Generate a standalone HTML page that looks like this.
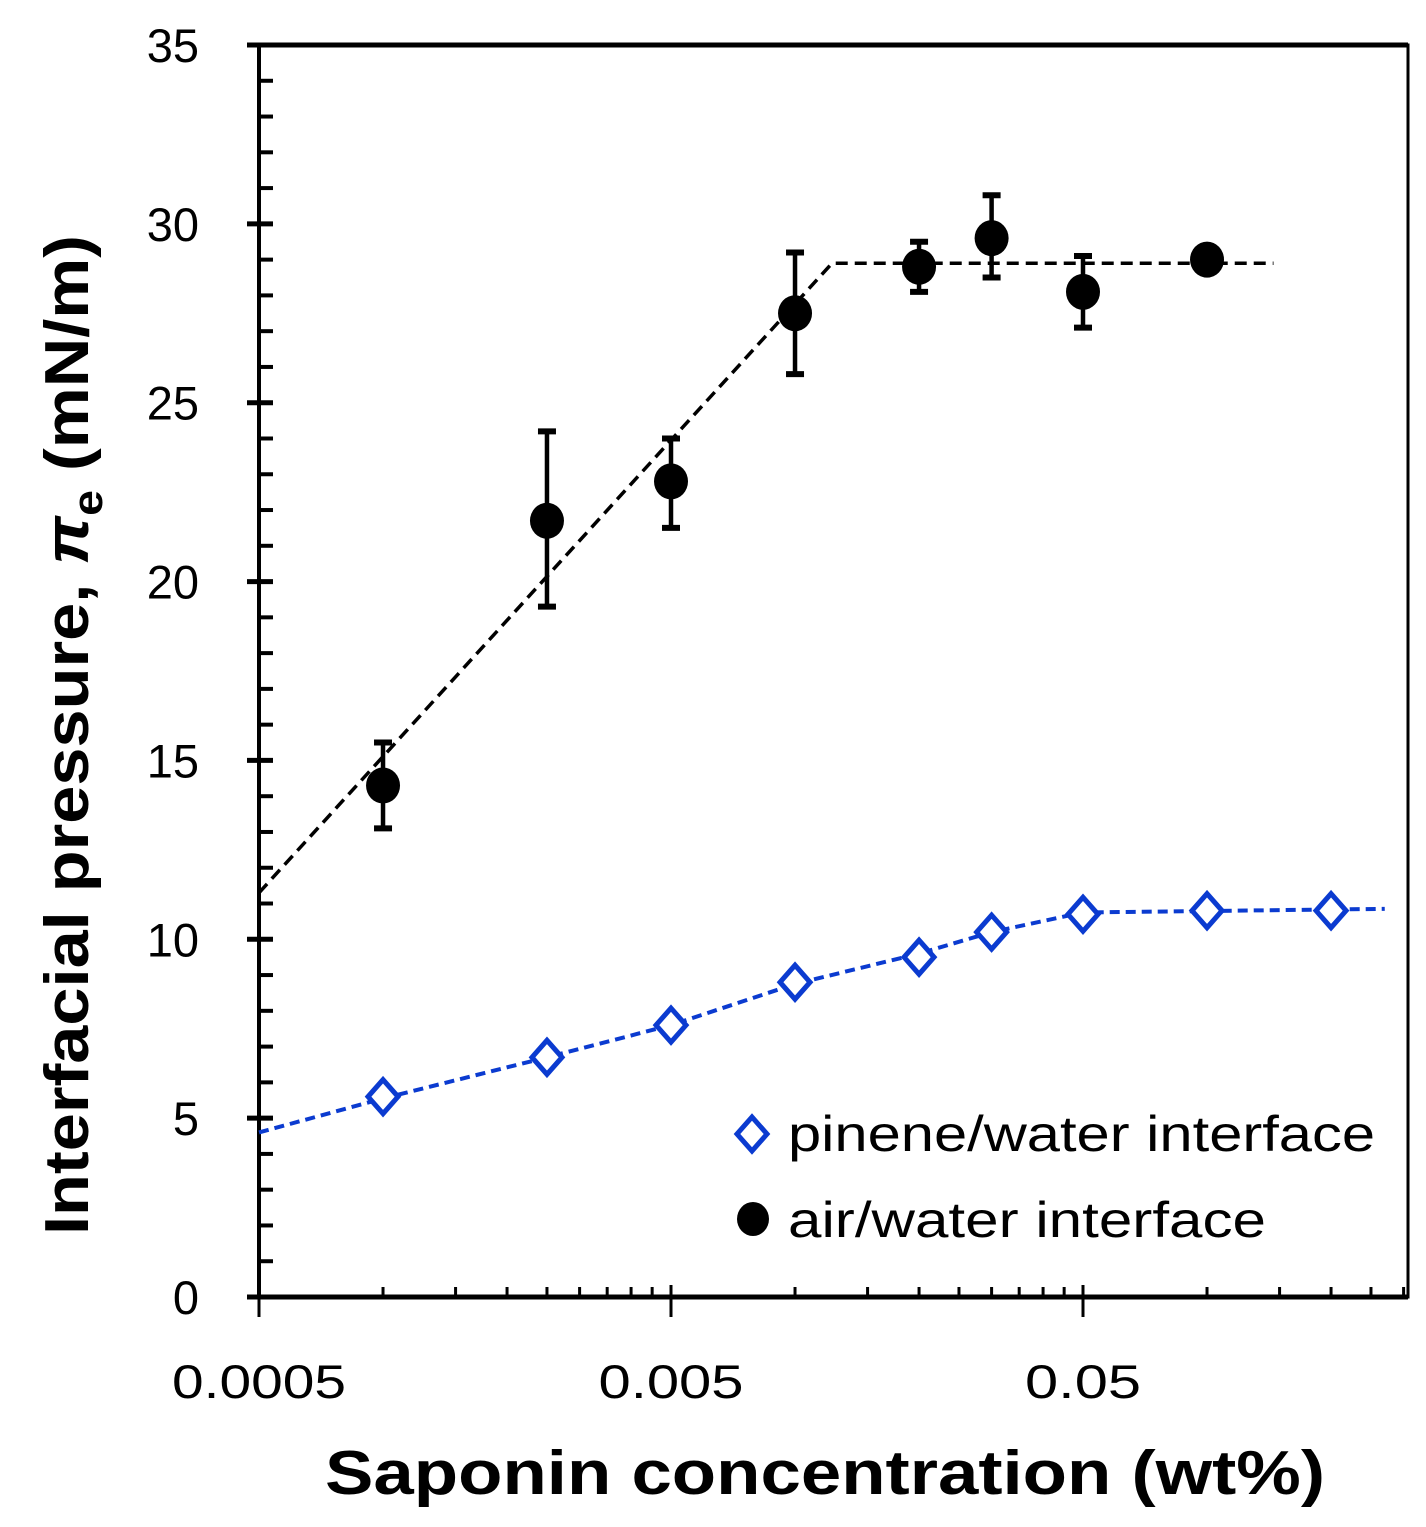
<!DOCTYPE html>
<html><head><meta charset="utf-8"><style>
html,body{margin:0;padding:0;background:#fff}
svg text{font-family:"Liberation Sans","DejaVu Sans",sans-serif}
</style></head><body>
<svg id="chart" width="1426" height="1522" viewBox="0 0 1426 1522" xmlns="http://www.w3.org/2000/svg">
<g id="axes"></g>
<g id="fits"></g>
<g id="marks"></g>
<text x="825" y="1494" text-anchor="middle" font-size="62" font-weight="bold" textLength="1000" lengthAdjust="spacingAndGlyphs">Saponin concentration (wt%)</text>
<text transform="translate(88,735) rotate(-90)" text-anchor="middle" font-size="62" font-weight="bold" textLength="1000" lengthAdjust="spacingAndGlyphs">Interfacial pressure, <tspan font-style="italic">π</tspan><tspan font-size="42" dy="14">e</tspan><tspan dy="-14">  (mN/m)</tspan></text>
<g>
<polygon points="752,1117 767,1134 752,1151 737,1134" fill="none" stroke="#0b3bd0" stroke-width="5"/>
<text x="788" y="1151" font-size="50" textLength="587" lengthAdjust="spacingAndGlyphs">pinene/water interface</text>
<ellipse cx="753" cy="1219" rx="16" ry="17" fill="#000"/>
<text x="788" y="1237" font-size="50" textLength="478" lengthAdjust="spacingAndGlyphs">air/water interface</text>
</g>
</svg>
<script>
const airX=[0.001,0.0025,0.005,0.01,0.02,0.03,0.05,0.1];
const airY=[14.3,21.7,22.8,27.5,28.8,29.6,28.1,29.0];
const airHi=[15.5,24.2,24.0,29.2,29.5,30.8,29.1,29.3];
const airLo=[13.1,19.3,21.5,25.8,28.1,28.5,27.1,28.7];
const pineneX=[0.001,0.0025,0.005,0.01,0.02,0.03,0.05,0.1,0.2];
const pineneY=[5.6,6.7,7.6,8.8,9.5,10.2,10.7,10.8,10.8];
const airFitX=[0.0005,0.0123,0.145];
const airFitY=[11.3,28.9,28.9];
const pineneFitX=[0.0005,0.001,0.0025,0.005,0.01,0.02,0.03,0.05,0.27];
const pineneFitY=[4.6,5.55,6.7,7.6,8.75,9.6,10.2,10.75,10.85];
const yTicks=[0,5,10,15,20,25,30,35];
const xTickLabels=["0.0005","0.005","0.05"];
const xTickVals=[0.0005,0.005,0.05];

const L=259,R=1408,T=45,B=1297,DEC=412;
const sx=v=>L+Math.log10(v/0.0005)*DEC;
const sy=v=>B-v*(B-T)/35;
const NS="http://www.w3.org/2000/svg";
function mk(parent,tag,attrs){const e=document.createElementNS(NS,tag);for(const k in attrs)e.setAttribute(k,attrs[k]);parent.appendChild(e);return e;}
const axes=document.getElementById('axes'),fits=document.getElementById('fits'),marks=document.getElementById('marks');

let f=mk(axes,'rect',{x:L,y:T,width:R-L,height:B-T,fill:'none',stroke:'#000','stroke-width':3});


let tl=mk(axes,'line',{x1:L-12,y1:T,x2:R,y2:T,stroke:'#000','stroke-width':5});


let xl=mk(axes,'line',{x1:L-12,y1:B,x2:R,y2:B,stroke:'#000','stroke-width':5});


let yl=mk(axes,'line',{x1:L,y1:T,x2:L,y2:B,stroke:'#000','stroke-width':4});



for(let v=0;v<=35;v++){
  const y=sy(v),maj=v%5===0;
  const t=mk(axes,'line',{x1:maj?L-12:L,y1:y,x2:L+14,y2:y,stroke:'#000','stroke-width':maj?5:4});
  
  
}
yTicks.forEach(v=>{
  const t=mk(axes,'text',{x:199,y:sy(v)+17,'text-anchor':'end','font-size':47});
  t.textContent=v;
  
  
});
for(let d=0;d<3;d++){
  for(let k=1;k<=9;k++){
    const v=0.0005*Math.pow(10,d)*k,x=sx(v);
    if(x>R-3)continue;
    const maj=k===1;
    const t=mk(axes,'line',{x1:x,y1:maj?B+20:B,x2:x,y2:B-(maj?12:10),stroke:'#000','stroke-width':3});
    
    
  }
}
xTickVals.forEach((v,i)=>{
  const t=mk(axes,'text',{x:sx(v),y:1398,'text-anchor':'middle','font-size':47,textLength:xTickLabels[i].length*29,lengthAdjust:'spacingAndGlyphs'});
  t.textContent=xTickLabels[i];
  
  
});

const af=mk(fits,'polyline',{points:airFitX.map((x,i)=>sx(x)+','+sy(airFitY[i])).join(' '),fill:'none',stroke:'#000','stroke-width':3.5,'stroke-dasharray':'12,7'});


const pf=mk(fits,'polyline',{points:pineneFitX.map((x,i)=>sx(x)+','+sy(pineneFitY[i])).join(' '),fill:'none',stroke:'#0b3bd0','stroke-width':4,'stroke-dasharray':'10,6'});



pineneX.forEach((x,i)=>{
  const cx=sx(x),cy=sy(pineneY[i]);
  const p=mk(marks,'polygon',{points:`${cx},${cy-17} ${cx+15},${cy} ${cx},${cy+17} ${cx-15},${cy}`,fill:'#fff',stroke:'#0b3bd0','stroke-width':5});
  
  
});
airX.forEach((x,i)=>{
  const cx=sx(x);
  const e=mk(marks,'line',{x1:cx,y1:sy(airHi[i]),x2:cx,y2:sy(airLo[i]),stroke:'#000','stroke-width':4.5});
  
  
  [airHi[i],airLo[i]].forEach(v=>{
    const c=mk(marks,'line',{x1:cx-9,y1:sy(v),x2:cx+9,y2:sy(v),stroke:'#000','stroke-width':6});
    
    
  });
  const c=mk(marks,'ellipse',{cx:cx,cy:sy(airY[i]),rx:17,ry:18,fill:'#000'});
  
  
});
</script>
</body></html>
